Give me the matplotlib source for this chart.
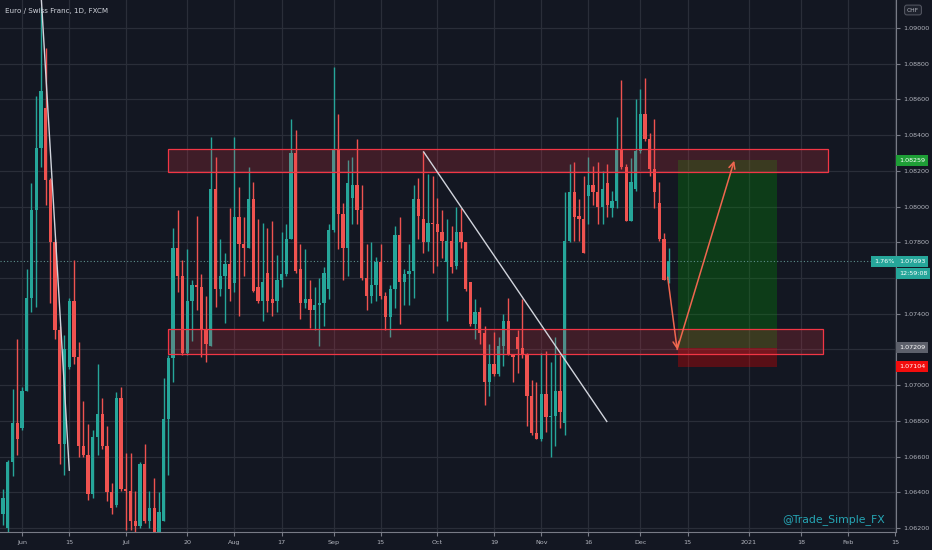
import numpy as np
import pandas as pd
import matplotlib
matplotlib.use('Agg')
import matplotlib.pyplot as plt
from matplotlib.patches import Rectangle

# Daily EUR/CHF candles, first bar is 26 May 2020
start_date = '2020-05-26'
opens = [1.0628, 1.0620, 1.0657, 1.0679, 1.0676, 1.0697, 1.0749, 1.0798, 1.0833, 1.0855,
         1.0815, 1.0780, 1.0731, 1.0667, 1.0710, 1.0747, 1.0716, 1.0666, 1.0661, 1.0639,
         1.0671, 1.0684, 1.0666, 1.0640, 1.0633, 1.0693, 1.0642, 1.0641, 1.0624, 1.0621,
         1.0656, 1.0624, 1.0631, 1.0618, 1.0624, 1.0681, 1.0715, 1.0777, 1.0761, 1.0718,
         1.0747, 1.0756, 1.0755, 1.0731, 1.0722, 1.0810, 1.0754, 1.0761, 1.0768, 1.0757,
         1.0794, 1.0779, 1.0777, 1.0804, 1.0755, 1.0747, 1.0763, 1.0748, 1.0747, 1.0759,
         1.0762, 1.0782, 1.0830, 1.0765, 1.0746, 1.0748, 1.0742, 1.0745, 1.0746, 1.0754,
         1.0787, 1.0832, 1.0796, 1.0777, 1.0805, 1.0812, 1.0798, 1.0760, 1.0750, 1.0756,
         1.0769, 1.0750, 1.0738, 1.0754, 1.0784, 1.0758, 1.0762, 1.0764, 1.0804, 1.0793,
         1.0780, 1.0791, 1.0790, 1.0786, 1.0769, 1.0781, 1.0767, 1.0786, 1.0780, 1.0758,
         1.0734, 1.0741, 1.0729, 1.0702, 1.0712, 1.0706, 1.0722, 1.0736, 1.0717, 1.0727,
         1.0721, 1.0717, 1.0694, 1.0673, 1.0670, 1.0695, 1.0682, 1.0683, 1.0697, 1.0679,
         1.0781, 1.0808, 1.0795, 1.0793, 1.0806, 1.0812, 1.0808, 1.0800, 1.0813, 1.0799,
         1.0803, 1.0832, 1.0822, 1.0792, 1.0810, 1.0831, 1.0852, 1.0838, 1.0821, 1.0802,
         1.0782, 1.0759]
highs = [1.0642, 1.0658, 1.0698, 1.0726, 1.0699, 1.0765, 1.0813, 1.0862, 1.0912, 1.0889,
         1.0816, 1.0782, 1.0733, 1.0728, 1.0749, 1.0770, 1.0724, 1.0691, 1.0678, 1.0675,
         1.0712, 1.0693, 1.0677, 1.0645, 1.0696, 1.0699, 1.0662, 1.0662, 1.0641, 1.0657,
         1.0667, 1.0641, 1.0648, 1.0640, 1.0704, 1.0717, 1.0788, 1.0798, 1.0770, 1.0776,
         1.0759, 1.0795, 1.0762, 1.0750, 1.0839, 1.0828, 1.0782, 1.0774, 1.0799, 1.0839,
         1.0811, 1.0794, 1.0822, 1.0814, 1.0793, 1.0791, 1.0788, 1.0792, 1.0773, 1.0786,
         1.0790, 1.0849, 1.0843, 1.0779, 1.0776, 1.0759, 1.0755, 1.0760, 1.0766, 1.0790,
         1.0878, 1.0852, 1.0802, 1.0826, 1.0828, 1.0838, 1.0812, 1.0779, 1.0780, 1.0772,
         1.0779, 1.0752, 1.0756, 1.0789, 1.0794, 1.0765, 1.0779, 1.0812, 1.0816, 1.0831,
         1.0818, 1.0817, 1.0805, 1.0798, 1.0793, 1.0789, 1.0800, 1.0799, 1.0780, 1.0758,
         1.0748, 1.0744, 1.0733, 1.0723, 1.0730, 1.0727, 1.0740, 1.0749, 1.0717, 1.0731,
         1.0748, 1.0718, 1.0703, 1.0702, 1.0718, 1.0719, 1.0713, 1.0727, 1.0717, 1.0808,
         1.0824, 1.0825, 1.0804, 1.0817, 1.0828, 1.0823, 1.0825, 1.0820, 1.0824, 1.0809,
         1.0850, 1.0871, 1.0824, 1.0827, 1.0860, 1.0866, 1.0872, 1.0841, 1.0849, 1.0814,
         1.0785, 1.0777]
lows = [1.0622, 1.0618, 1.0649, 1.0661, 1.0675, 1.0697, 1.0741, 1.0744, 1.0822, 1.0801,
        1.0746, 1.0726, 1.0656, 1.0650, 1.0709, 1.0712, 1.0660, 1.0660, 1.0636, 1.0637,
        1.0661, 1.0664, 1.0635, 1.0628, 1.0632, 1.0641, 1.0619, 1.0619, 1.0618, 1.0620,
        1.0623, 1.0620, 1.0617, 1.0617, 1.0624, 1.0650, 1.0702, 1.0752, 1.0717, 1.0717,
        1.0725, 1.0742, 1.0716, 1.0713, 1.0722, 1.0744, 1.0750, 1.0735, 1.0747, 1.0752,
        1.0739, 1.0761, 1.0777, 1.0752, 1.0746, 1.0736, 1.0741, 1.0739, 1.0741, 1.0755,
        1.0761, 1.0782, 1.0763, 1.0737, 1.0743, 1.0732, 1.0731, 1.0722, 1.0733, 1.0748,
        1.0786, 1.0776, 1.0759, 1.0761, 1.0790, 1.0790, 1.0759, 1.0742, 1.0746, 1.0747,
        1.0748, 1.0731, 1.0727, 1.0743, 1.0734, 1.0745, 1.0745, 1.0749, 1.0782, 1.0774,
        1.0775, 1.0763, 1.0767, 1.0771, 1.0736, 1.0763, 1.0765, 1.0777, 1.0753, 1.0733,
        1.0726, 1.0723, 1.0689, 1.0694, 1.0705, 1.0705, 1.0711, 1.0717, 1.0702, 1.0707,
        1.0715, 1.0677, 1.0672, 1.0670, 1.0669, 1.0674, 1.0660, 1.0666, 1.0676, 1.0672,
        1.0780, 1.0781, 1.0781, 1.0774, 1.0790, 1.0801, 1.0790, 1.0790, 1.0794, 1.0794,
        1.0799, 1.0821, 1.0792, 1.0792, 1.0809, 1.0830, 1.0837, 1.0817, 1.0799, 1.0781,
        1.0759, 1.0757]
closes = [1.0637, 1.0657, 1.0679, 1.0670, 1.0697, 1.0749, 1.0798, 1.0833, 1.0865, 1.0815,
          1.0780, 1.0731, 1.0667, 1.0720, 1.0747, 1.0716, 1.0666, 1.0661, 1.0639, 1.0671,
          1.0684, 1.0666, 1.0640, 1.0631, 1.0693, 1.0642, 1.0641, 1.0624, 1.0621, 1.0656,
          1.0624, 1.0631, 1.0618, 1.0629, 1.0681, 1.0715, 1.0777, 1.0761, 1.0718, 1.0747,
          1.0756, 1.0755, 1.0731, 1.0723, 1.0810, 1.0754, 1.0761, 1.0768, 1.0754, 1.0794,
          1.0779, 1.0777, 1.0804, 1.0753, 1.0747, 1.0758, 1.0747, 1.0746, 1.0759, 1.0762,
          1.0782, 1.0830, 1.0764, 1.0746, 1.0748, 1.0742, 1.0745, 1.0746, 1.0763, 1.0787,
          1.0832, 1.0796, 1.0777, 1.0813, 1.0812, 1.0798, 1.0760, 1.0750, 1.0756, 1.0769,
          1.0750, 1.0738, 1.0754, 1.0784, 1.0758, 1.0762, 1.0764, 1.0804, 1.0795, 1.0780,
          1.0791, 1.0790, 1.0786, 1.0781, 1.0781, 1.0766, 1.0786, 1.0780, 1.0754, 1.0734,
          1.0741, 1.0729, 1.0702, 1.0712, 1.0706, 1.0722, 1.0736, 1.0717, 1.0716, 1.0720,
          1.0717, 1.0694, 1.0673, 1.0670, 1.0695, 1.0682, 1.0683, 1.0697, 1.0685, 1.0781,
          1.0808, 1.0794, 1.0793, 1.0774, 1.0812, 1.0808, 1.0800, 1.0810, 1.0801, 1.0803,
          1.0832, 1.0822, 1.0792, 1.0814, 1.0831, 1.0852, 1.0838, 1.0821, 1.0808, 1.0782,
          1.0759, 1.07693]

# Date axis labels
tick_dates = ['2020-06-01', '2020-06-15', '2020-07-01', '2020-07-20', '2020-08-03',
              '2020-08-17', '2020-09-01', '2020-09-15', '2020-10-01', '2020-10-19',
              '2020-11-02', '2020-11-16', '2020-12-01', '2020-12-15', '2021-01-01',
              '2021-01-18', '2021-02-01', '2021-02-15']
tick_labels = ['Jun', '15', 'Jul', '20', 'Aug', '17', 'Sep', '15', 'Oct', '19',
               'Nov', '16', 'Dec', '15', '2021', '18', 'Feb', '15']
# price ticks hidden behind the price tags
hidden_ticks = ['1.07200', '1.07600']

# Drawings (bar index, price)
resistance = (34.9, 174.8, 1.08193, 1.08321)
support = (34.9, 173.7, 1.07174, 1.07312)
trend1 = [(7.9, 1.0925), (14.02, 1.06524)]
trend2 = [(89.1, 1.08306), (127.9, 1.06797)]
target, entry, stop = 1.08259, 1.07209, 1.07104
position_x = (143.0, 163.9)
path = [(140.8, 1.07605), (142.8, 1.07200), (154.9, 1.08257)]
last_price = 1.07693

bg = '#131722'
up_col = '#26a69a'
dn_col = '#ef5350'
grid_col = '#2a2e39'
text_col = '#b2b5be'
lab_size = 4.6

days = pd.bdate_range(start_date, '2021-03-01')
tick_pos = [days.get_loc(pd.Timestamp(d)) for d in tick_dates]

fig = plt.figure(figsize=(9.32, 5.5), dpi=100, facecolor=bg)
ax = fig.add_axes([0, 18 / 550, 896 / 932, 532 / 550], facecolor=bg)

x = np.arange(len(opens))
o = np.array(opens); h = np.array(highs); l = np.array(lows); c = np.array(closes)
colors = np.where(c >= o, up_col, dn_col)
ax.vlines(x, l, h, colors=colors, linewidth=1, zorder=3)
body_bottom = np.minimum(o, c)
body_height = np.maximum(np.abs(c - o), 0.00003)
ax.bar(x, body_height, bottom=body_bottom, width=0.7, color=colors, linewidth=0, zorder=4)

# support / resistance zones
for x0, x1, y0, y1 in [resistance, support]:
    ax.add_patch(Rectangle((x0, y0), x1 - x0, y1 - y0, facecolor='#f23645', alpha=0.2,
                           edgecolor='none', zorder=5))
    ax.add_patch(Rectangle((x0, y0), x1 - x0, y1 - y0, facecolor='none',
                           edgecolor='#f23645', linewidth=0.9, zorder=5))

# long position tool
px0, px1 = position_x
ax.add_patch(Rectangle((px0, entry), px1 - px0, target - entry, facecolor='#00a000',
                       alpha=0.27, edgecolor='none', zorder=2))
ax.add_patch(Rectangle((px0, stop), px1 - px0, entry - stop, facecolor='#e00000',
                       alpha=0.34, edgecolor='none', zorder=2))

# trend lines
for line in [trend1, trend2]:
    ax.plot([line[0][0], line[1][0]], [line[0][1], line[1][1]], color='#d1d4dc',
            linewidth=1, zorder=6)

# projected path arrows
for a, b in zip(path[:-1], path[1:]):
    ax.annotate('', xy=b, xytext=a, zorder=7,
                arrowprops=dict(arrowstyle='->,head_length=0.45,head_width=0.22',
                                color='#f0674f', linewidth=1.1, shrinkA=0, shrinkB=0))

# last price line
ax.axhline(last_price, color='#5d8f8c', linewidth=0.8, linestyle=(0, (1, 2)), zorder=2)

ax.set_xlim(4 - 22 / 4.72, 4 + 874 / 4.72)
ax.set_ylim(1.09 - 504 / 17860, 1.09 + 28 / 17860)

ax.set_xticks(tick_pos)
ax.set_xticklabels(tick_labels)
yt = np.arange(1.062, 1.0901, 0.002)
ax.set_yticks(yt)
ax.set_yticklabels(['' if ('%.5f' % v) in hidden_ticks else '%.5f' % v for v in yt])
ax.yaxis.tick_right()
ax.tick_params(axis='both', colors='#787b86', labelcolor=text_col, labelsize=lab_size,
               length=3, width=0.8, pad=2.5)
ax.grid(True, color=grid_col, linewidth=0.9, zorder=0)
ax.set_axisbelow(True)
for s in ['top', 'left']:
    ax.spines[s].set_visible(False)
for s in ['right', 'bottom']:
    ax.spines[s].set_color('#787b86')
    ax.spines[s].set_linewidth(0.8)

# price labels on the axis
ytr = ax.get_yaxis_transform()
def price_tag(y, s, fc):
    ax.text(1.0035, y, s, transform=ytr, ha='left', va='center', color='white',
            fontsize=lab_size, clip_on=False, zorder=10,
            bbox=dict(boxstyle='square,pad=0.45', fc=fc, ec='none'))

price_tag(target, '%.5f' % target, '#1e9e36')
price_tag(last_price, '%.5f' % last_price, up_col)
price_tag(last_price - 0.00066, '12:59:08', up_col)
price_tag(entry, '%.5f' % entry, '#5d606b')
price_tag(stop, '%.5f' % stop, '#f20d0d')
ax.text(0.998, last_price, '1.76%', transform=ytr, ha='right', va='center', color='white',
        fontsize=lab_size, zorder=10,
        bbox=dict(boxstyle='square,pad=0.45', fc=up_col, ec='none'))

fig.text(913 / 932, 1 - 10 / 550, 'CHF', color=text_col, fontsize=4.3, ha='center',
         va='center', bbox=dict(boxstyle='round,pad=0.4', fc='#1e222d', ec='#50535e', lw=0.8))

ax.text(5 / 896, 1 - 11 / 532, 'Euro / Swiss Franc, 1D, FXCM', transform=ax.transAxes,
        color='#d1d4dc', fontsize=5.1, ha='left', va='center', zorder=10)
ax.text(885 / 896, 1 - 520 / 532, '@Trade_Simple_FX', transform=ax.transAxes,
        color='#26a6b5', fontsize=7.8, ha='right', va='center', zorder=10)

fig.savefig('out.png', dpi=100, facecolor=bg)
